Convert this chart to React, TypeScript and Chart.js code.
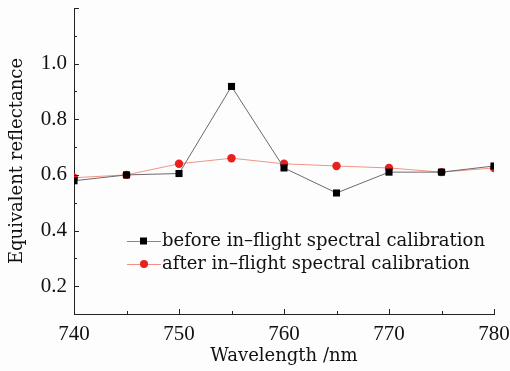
import React, { useEffect, useRef } from "react";
import { Chart, registerables } from "chart.js";

Chart.register(...registerables);

const wavelengths = [740, 745, 750, 755, 760, 765, 770, 775, 780];
const beforeValues = [0.579, 0.6, 0.605, 0.918, 0.625, 0.535, 0.61, 0.61, 0.632];
const afterValues = [0.59, 0.6, 0.64, 0.66, 0.64, 0.632, 0.625, 0.61, 0.625];
const yTickLabels = [0.2, 0.4, 0.6, 0.8, 1.0];
const xTickLabels = [740, 750, 760, 770, 780];
const seriesNames = [
  "before in\u2013flight spectral calibration",
  "after in\u2013flight spectral calibration",
];

const TICK_FONT = "'Liberation Serif', 'DejaVu Serif', serif";
const TEXT_FONT = "'DejaVu Serif', 'Liberation Serif', serif";

export default function App() {
  const ref = useRef<HTMLCanvasElement | null>(null);
  useEffect(() => {
    document.body.style.margin = "0";
    document.body.style.background = "#fdfdfd";
    const canvas = ref.current!;
    const tickPlugin = {
      id: "innerTicks",
      afterDraw(chart: any) {
        const ctx = chart.ctx;
        const x = chart.scales.x;
        const y = chart.scales.y;
        const area = chart.chartArea;
        ctx.save();
        ctx.strokeStyle = "#222";
        ctx.lineWidth = 1;
        for (let v = 740; v <= 780; v += 5) {
          const px = Math.round(x.getPixelForValue(v)) + 0.5;
          const len = v % 10 === 0 ? 5 : 3;
          ctx.beginPath();
          ctx.moveTo(px, area.bottom);
          ctx.lineTo(px, area.bottom - len);
          ctx.stroke();
        }
        for (let i = 1; i <= 12; i++) {
          const v = i / 10;
          const py = Math.round(y.getPixelForValue(v)) + 0.5;
          const len = i % 2 === 0 ? 5 : 3;
          ctx.beginPath();
          ctx.moveTo(area.left, py);
          ctx.lineTo(area.left + len, py);
          ctx.stroke();
        }
        // legend
        const lx = 127;
        const rows = [
          { y: 241, color: "#000", line: "#888", style: "rect" },
          { y: 264, color: "#e82020", line: "#f09080", style: "circle" },
        ];
        ctx.font = `18px ${TEXT_FONT}`;
        ctx.textBaseline = "middle";
        rows.forEach((r, i) => {
          ctx.strokeStyle = r.line;
          ctx.beginPath();
          ctx.moveTo(lx, r.y + 0.5);
          ctx.lineTo(lx + 34, r.y + 0.5);
          ctx.stroke();
          ctx.fillStyle = r.color;
          if (r.style === "rect") {
            ctx.fillRect(lx + 13, r.y - 3.5, 7, 7);
          } else {
            ctx.beginPath();
            ctx.arc(lx + 17, r.y, 4, 0, Math.PI * 2);
            ctx.fill();
          }
          ctx.fillStyle = "#111";
          ctx.fillText(seriesNames[i], lx + 35, r.y);
        });
        ctx.restore();
      },
    };
    const chart = new Chart(canvas, {
      type: "line",
      data: {
        datasets: [
          {
            label: seriesNames[0],
            data: wavelengths.map((w, i) => ({ x: w, y: beforeValues[i] })),
            borderColor: "#6a6a6a",
            borderWidth: 1,
            pointStyle: "rect",
            pointRadius: 5,
            pointBackgroundColor: "#000",
            pointBorderColor: "#000",
            pointBorderWidth: 0,
            clip: 0,
          },
          {
            label: seriesNames[1],
            data: wavelengths.map((w, i) => ({ x: w, y: afterValues[i] })),
            borderColor: "#f09585",
            borderWidth: 1,
            pointStyle: "circle",
            pointRadius: 4.2,
            pointBackgroundColor: "#e82020",
            pointBorderColor: "#e82020",
            pointBorderWidth: 0,
            clip: 0,
          },
        ],
      },
      options: {
        animation: false,
        responsive: false,
        layout: { autoPadding: false, padding: { top: 8, right: 16, left: 0, bottom: 0 } },
        plugins: {
          legend: { display: false },
          tooltip: { enabled: false },
        },
        scales: {
          x: {
            type: "linear",
            min: 740,
            max: 780,
            afterBuildTicks: (s: any) => {
              s.ticks = xTickLabels.map((v) => ({ value: v }));
            },
            afterFit: (s: any) => {
              s.height = 57;
              s.paddingLeft = 0;
              s.paddingRight = 0;
            },
            grid: { display: false, drawTicks: false },
            border: { display: true, color: "#222", width: 1 },
            ticks: {
              color: "#111",
              padding: 8,
              font: { family: TICK_FONT, size: 21 },
              maxRotation: 0,
            },
            title: {
              display: true,
              text: "Wavelength /nm",
              color: "#111",
              font: { family: TEXT_FONT, size: 18 },
              padding: { top: 0, bottom: 4 },
            },
          },
          y: {
            type: "linear",
            min: 0.1,
            max: 1.2,
            afterBuildTicks: (s: any) => {
              s.ticks = yTickLabels.map((v) => ({ value: v }));
            },
            afterFit: (s: any) => {
              s.width = 74;
              s.paddingTop = 0;
              s.paddingBottom = 0;
            },
            grid: { display: false, drawTicks: false },
            border: { display: true, color: "#222", width: 1 },
            ticks: {
              color: "#111",
              padding: 7,
              font: { family: TICK_FONT, size: 21 },
              callback: (v: any) => Number(v).toFixed(1),
            },
            title: {
              display: true,
              text: "Equivalent reflectance",
              color: "#111",
              font: { family: TEXT_FONT, size: 18 },
              padding: { top: 7, bottom: 4 },
            },
          },
        },
      },
      plugins: [tickPlugin],
    });
    return () => chart.destroy();
  }, []);
  return (
    <div style={{ width: 510, height: 371 }}>
      <canvas ref={ref} width={510} height={371} />
    </div>
  );
}
